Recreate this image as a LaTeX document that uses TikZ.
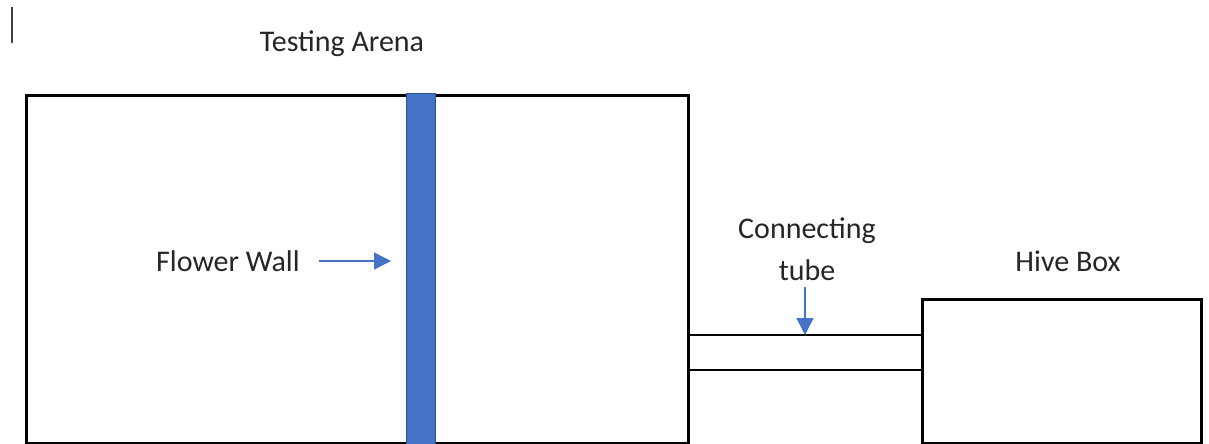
\documentclass[tikz,border=0pt]{standalone}
\usepackage{fontspec}
\setmainfont{Carlito}
\usetikzlibrary{arrows.meta}
\definecolor{wallblue}{RGB}{68,114,196}
\definecolor{walledge}{RGB}{47,82,143}
\definecolor{txt}{RGB}{38,38,38}
\begin{document}
\begin{tikzpicture}[x=1pt,y=-1pt,
  box/.style={draw=black,line width=2.6pt,fill=white,inner sep=0,anchor=north west},
  lbl/.style={font=\fontsize{30}{42}\selectfont,text=txt,inner sep=0,align=center},
  pointer/.style={draw=wallblue,line width=1.6pt,-{Triangle[length=17pt,width=17pt]}}]
\useasboundingbox (0,0) rectangle (1209,444);
\fill[white] (0,0) rectangle (1209,444);
% cursor mark
\draw[line width=1.3pt,black!75] (12,7) -- (12,43);
% testing arena
\node[box,minimum width=662pt,minimum height=348pt] (arena) at (25,94) {};
\node[box,draw=walledge,line width=0.8pt,fill=wallblue,minimum width=29pt,minimum height=352pt] (wall) at (406,92.5) {};
% hive box
\node[box,minimum width=279pt,minimum height=144pt] (hive) at (921,298) {};
% tube
\coordinate (t1) at (0,335);
\coordinate (t2) at (0,370);
\draw[line width=2.6pt] (arena.east |- t1) -- (hive.west |- t1);
\draw[line width=2.6pt] (arena.east |- t2) -- (hive.west |- t2);
% labels
\node[lbl] (ta) at (342,44) {Testing Arena};
\node[lbl,anchor=west] (fw) at (156,261) {Flower Wall};
\node[lbl] (ct) at (807,249) {Connecting\\tube};
\node[lbl] (hb) at (1068,261) {Hive Box};
% pointers
\draw[pointer,shorten <=19pt,shorten >=15pt] (fw.east) -- (wall.west |- fw.east);
\coordinate (ctarrow) at (805,287);
\draw[pointer] (ctarrow) -- (ctarrow |- t1);
\end{tikzpicture}
\end{document}
